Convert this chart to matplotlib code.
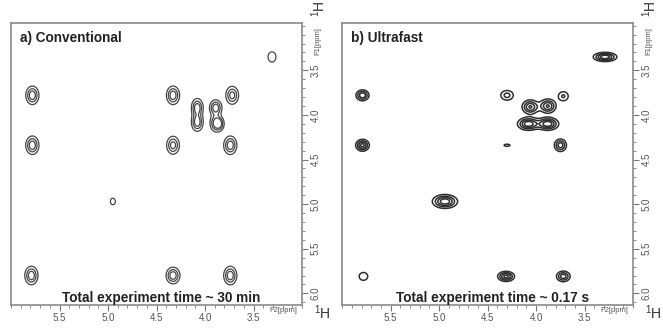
import numpy as np
import matplotlib.pyplot as plt
from matplotlib.ticker import MultipleLocator, FixedLocator

plt.rcParams['font.family'] = ['Liberation Sans', 'DejaVu Sans']

# peak lists: F2 shift, F1 shift, intensity, F2 width, F1 width (ppm)
conv_f2 = [3.31, 5.78, 4.33, 3.72, 4.08, 4.08, 3.89, 3.89, 3.85, 5.78, 4.33, 3.74, 4.95, 5.79, 4.33, 3.74]
conv_f1 = [3.35, 3.78, 3.78, 3.78, 3.92, 4.08, 3.92, 4.09, 4.10, 4.34, 4.34, 4.34, 4.97, 5.80, 5.80, 5.80]
conv_int = [0.45, 1.0, 1.0, 0.9, 1.0, 1.0, 1.0, 0.9, 0.7, 1.0, 0.9, 1.0, 0.3, 1.0, 1.0, 1.0]
conv_w2 = [0.032, 0.038, 0.038, 0.038, 0.034, 0.034, 0.036, 0.034, 0.028, 0.038, 0.038, 0.038, 0.028, 0.038, 0.040, 0.038]
conv_w1 = [0.045, 0.058, 0.058, 0.058, 0.058, 0.058, 0.050, 0.055, 0.045, 0.058, 0.058, 0.058, 0.040, 0.058, 0.052, 0.058]

uf_f2 = [3.29, 5.79, 4.30, 3.72, 4.06, 3.88, 4.08, 3.88, 5.79, 4.30, 3.75, 4.94, 5.78, 4.31, 3.72]
uf_f1 = [3.35, 3.78, 3.78, 3.79, 3.91, 3.90, 4.10, 4.10, 4.34, 4.34, 4.34, 4.97, 5.81, 5.81, 5.81]
uf_int = [1.0, 0.8, 0.5, 0.45, 0.85, 0.85, 1.0, 1.0, 0.9, 0.3, 0.75, 1.0, 0.4, 0.9, 0.75]
uf_w2 = [0.070, 0.042, 0.050, 0.042, 0.052, 0.052, 0.065, 0.065, 0.042, 0.038, 0.040, 0.075, 0.040, 0.052, 0.045]
uf_w1 = [0.030, 0.038, 0.042, 0.042, 0.048, 0.048, 0.042, 0.042, 0.040, 0.015, 0.045, 0.045, 0.040, 0.034, 0.038]

titles = ['a) Conventional', 'b) Ultrafast']
times = ['Total experiment time ~ 30 min', 'Total experiment time ~ 0.17 s']
x_ticks = [5.5, 5.0, 4.5, 4.0, 3.5]
y_ticks = [3.5, 4.0, 4.5, 5.0, 5.5, 6.0]


def spectrum(f2, f1, amp, w2, w1, X, Y):
    Z = np.zeros_like(X)
    for x0, y0, a, sx, sy in zip(f2, f1, amp, w2, w1):
        Z += a * np.exp(-0.5 * ((X - x0) / sx) ** 2 - 0.5 * ((Y - y0) / sy) ** 2)
    return Z


fig = plt.figure(figsize=(6.63, 3.34), dpi=100)
ax_a = fig.add_axes([0.0166, 0.087, 0.439, 0.844])
ax_b = fig.add_axes([0.516, 0.087, 0.439, 0.844])

xg = np.linspace(3.0, 6.0, 700)
yg = np.linspace(2.95, 6.15, 700)
X, Y = np.meshgrid(xg, yg)

panels = [
    (ax_a, (conv_f2, conv_f1, conv_int, conv_w2, conv_w1), [0.2, 0.45, 0.72], 0.9, '#444444'),
    (ax_b, (uf_f2, uf_f1, uf_int, uf_w2, uf_w1), [0.22, 0.42, 0.62, 0.82], 1.1, '#2e2e2e'),
]

for i, (ax, peaks, levels, lw, col) in enumerate(panels):
    Z = spectrum(*peaks, X, Y)
    ax.contour(X, Y, Z, levels=levels, colors=col, linewidths=lw)
    ax.set_xlim(6.0, 3.0)
    ax.set_ylim(6.13, 2.97)

    ax.yaxis.tick_right()
    ax.xaxis.set_major_locator(FixedLocator(x_ticks))
    ax.xaxis.set_minor_locator(MultipleLocator(0.1))
    ax.yaxis.set_major_locator(FixedLocator(y_ticks))
    ax.yaxis.set_minor_locator(MultipleLocator(0.1))
    ax.set_xticklabels(['%.1f' % t for t in x_ticks])
    ax.set_yticklabels(['%.1f' % t for t in y_ticks])
    ax.tick_params(which='major', length=4, width=0.8, color='#777', pad=2,
                   labelsize=7, labelcolor='#555')
    ax.tick_params(which='minor', length=2, width=0.6, color='#777')
    ax.tick_params(axis='y', labelrotation=90)
    for lab in ax.get_yticklabels():
        lab.set_va('center')
    for sp in ax.spines.values():
        sp.set_color('#8a8a8a')
        sp.set_linewidth(1.2)

    ax.text(0.031, 0.947, titles[i], transform=ax.transAxes, fontsize=9.8,
            fontweight='bold', color='#222', va='center', ha='left')
    ax.text(0.515, 0.026, times[i], transform=ax.transAxes, fontsize=9.8,
            fontweight='bold', color='#222', va='center', ha='center')

    ax.text(0.886, -0.018, 'F2[ppm]', transform=ax.transAxes, fontsize=5.5,
            color='#555', va='center', ha='left', clip_on=False)
    ax.text(1.07, -0.028, r'$^{\mathregular{1}}$H', transform=ax.transAxes, fontsize=10,
            color='#333', va='center', ha='center', clip_on=False)
    ax.text(1.055, 0.935, 'F1[ppm]', transform=ax.transAxes, fontsize=5.5,
            color='#555', va='center', ha='center', rotation=90, clip_on=False)
    ax.text(1.058, 1.05, r'$^{\mathregular{1}}$H', transform=ax.transAxes, fontsize=10,
            color='#333', va='center', ha='center', rotation=90, clip_on=False)

fig.savefig('out.png', dpi=100)
